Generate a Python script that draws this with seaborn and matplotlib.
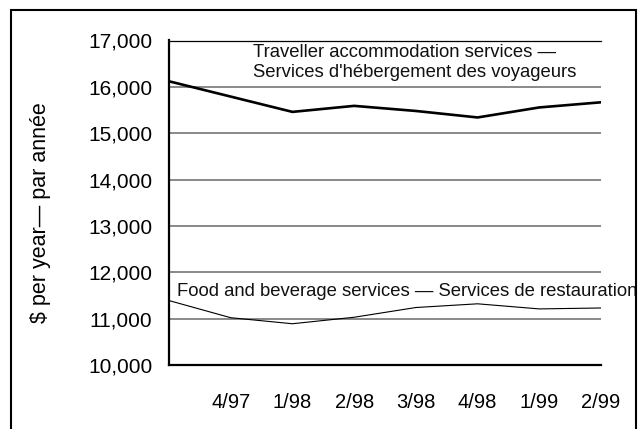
import matplotlib
matplotlib.use("Agg")
import matplotlib.pyplot as plt
import matplotlib.ticker as mticker
from matplotlib.patches import Rectangle
import pandas as pd
import seaborn as sns

# Average earnings by quarter, $ per year
quarters = ["3/97", "4/97", "1/98", "2/98", "3/98", "4/98", "1/99", "2/99"]
accommodation = [16120, 15790, 15460, 15590, 15480, 15340, 15556, 15667]
food_beverage = [11390, 11020, 10890, 11030, 11240, 11320, 11210, 11230]
y_ticks = [10000, 11000, 12000, 13000, 14000, 15000, 16000, 17000]

accommodation_label = "Traveller accommodation services —\nServices d'hébergement des voyageurs"
food_label = "Food and beverage services — Services de restauration"
y_title = "$ per year— par année"

sns.set_style("white")
plt.rcParams["font.family"] = ["Liberation Sans", "DejaVu Sans"]

df = pd.DataFrame({
    "pos": range(len(quarters)),
    "quarter": quarters,
    "accommodation": accommodation,
    "food_beverage": food_beverage,
})

fig = plt.figure(figsize=(6.42, 4.29), dpi=100)
ax = fig.add_axes([169 / 642, 1 - 365 / 429, 432 / 642, 324.5 / 429])

sns.lineplot(data=df, x="pos", y="accommodation", color="black", lw=1.9, ax=ax)
sns.lineplot(data=df, x="pos", y="food_beverage", color="black", lw=0.8, ax=ax)

ax.set_xlim(0, len(quarters) - 1)
ax.set_ylim(y_ticks[0], y_ticks[-1])
ax.set_yticks(y_ticks)
ax.yaxis.set_major_formatter(mticker.FuncFormatter(lambda v, _: f"{v:,.0f}"))
ax.set_xticks(range(1, len(quarters)))
ax.set_xticklabels(quarters[1:])

ax.yaxis.grid(True, color="#6a6a6a", lw=1.1)
ax.set_axisbelow(True)
for side in ("left", "bottom"):
    ax.spines[side].set_color("black")
    ax.spines[side].set_linewidth(1.6)
ax.spines["top"].set_color("black")
ax.spines["top"].set_linewidth(0.9)
ax.spines["right"].set_visible(False)

ax.tick_params(axis="y", length=0, pad=12, labelsize=15, labelcolor="black")
ax.tick_params(axis="x", direction="in", length=5, width=1.4, color="black",
               pad=20, labelsize=14.5, labelcolor="black")

ax.set_xlabel("")
ax.set_ylabel(y_title, fontsize=15.5, color="black")
ax.yaxis.set_label_coords(-0.273, 0.471)

ax.text(1.36, 16530, accommodation_label, ha="left", va="center",
        fontsize=13.3, linespacing=1.25, color="#111111")
ax.text(0.13, 11583, food_label, ha="left", va="center",
        fontsize=13.3, color="#111111")

# Frame around the figure (open at the bottom)
fig.add_artist(Rectangle((11.5 / 642, -0.2), (636 - 11.5) / 642, 1.2 - 10.5 / 429,
                         transform=fig.transFigure, fill=False,
                         edgecolor="black", lw=1.5, clip_on=False))

fig.savefig("out.png", dpi=100)
